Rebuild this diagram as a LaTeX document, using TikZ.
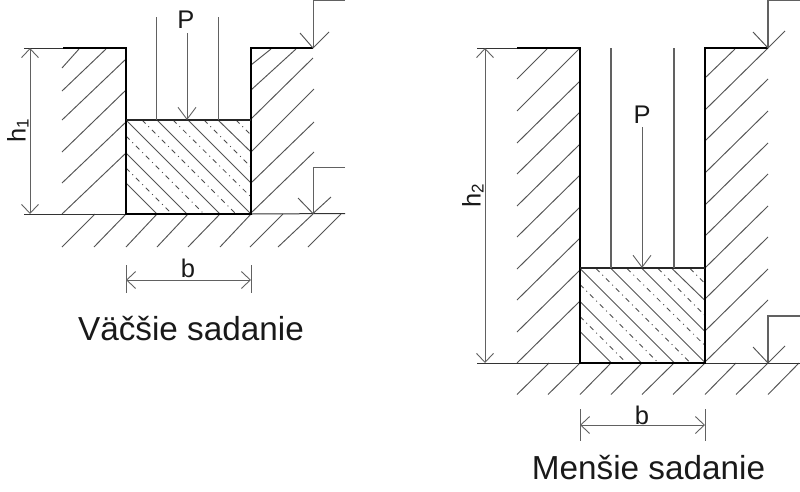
\documentclass[tikz,border=0pt]{standalone}
\usepackage{fontspec}
\setmainfont{Liberation Sans}
\usetikzlibrary{arrows.meta}
\definecolor{hatchcol}{gray}{0.33}
\definecolor{dimcol}{gray}{0.38}
\tikzset{
  wall/.style={line width=2.5pt,black,line cap=square,line join=miter},
  hatchline/.style={line width=0.95pt,hatchcol},
  dashhatch/.style={line width=0.8pt,black!70,dash pattern=on 5pt off 4pt on 1pt off 4pt},
  thinline/.style={line width=1pt,black!80},
  dimline/.style={line width=1pt,dimcol},
  dimtip/.style={dimline,{Straight Barb[length=9pt,width=17pt,line width=0.9pt]}-{Straight Barb[length=9pt,width=17pt,line width=0.9pt]}},
  loadtip/.style={dimline,-{Straight Barb[length=12pt,width=18pt,line width=0.9pt]}},
  lab/.style={font=\fontsize{25.5}{25.5}\selectfont,inner sep=0pt,text=black!90},
  caption/.style={font=\fontsize{33.3}{33.3}\selectfont,inner sep=0pt,anchor=base,text=black!90}
}
\newcommand{\sublab}[2]{h\raisebox{-3pt}{\fontsize{#1}{#1}\selectfont #2}}
\newcommand{\footinghatch}{%
  \foreach \xa/\ya/\xb/\yb in {126/120/220/214,126/153/187/214,126/183/157/214,157/120/251/214,188/120/251/183,218/120/251/152}
    \draw[hatchline] (\xa,\ya) -- (\xb,\yb);
  \foreach \xa/\ya/\xb/\yb in {142/120/236/214,173/120/251/197,204/120/251/167,236/120/251/135,126/136/204/214,126/168/172/214}
    \draw[dashhatch] (\xa,\ya) -- (\xb,\yb);
}
\begin{document}
\begin{tikzpicture}[x=1pt,y=-1pt]
\useasboundingbox (0,0) rectangle (800,491);

%% ---------- left figure ----------
\foreach \xa/\ya/\xb/\yb in {62/68/79/49,62/91/106/49,62/120/126/59,62/152/126/90,62/183/126/122,62/214/126/153}
  \draw[hatchline] (\xa,\ya) -- (\xb,\yb);
\foreach \xa/\ya/\xb/\yb in {251/65/271/49,251/90/296/49,251/119/313/58,251/152/314/89,251/183/314/122,251/213/314/152}
  \draw[hatchline] (\xa,\ya) -- (\xb,\yb);
\foreach \xa/\xb in {62/95,94/126,126/157,157/188,188/220,220/251,250/283,278/313,308/341}
  \draw[hatchline] (\xa,247) -- (\xb,214);
\footinghatch
\coordinate (lA) at (24,48);
\coordinate (lB) at (63,48);
\coordinate (lC) at (126,48);
\coordinate (lD) at (126,214);
\coordinate (lE) at (251,214);
\coordinate (lF) at (251,48);
\coordinate (lG) at (313,48);
\coordinate (lH) at (24,214);
\coordinate (lI) at (345,213.5);
\coordinate (lJ) at (126,120);
\coordinate (lK) at (251,120);
\draw[thinline] (lA) -- (lB);
\draw[thinline] (lH) -- (lD);
\draw[thinline] (lE) -- (lI);
\draw[wall] (lB) -- (lC) -- (lD) -- (lE) -- (lF) -- (lG);
\draw[line width=1.5pt,black!85] (lJ) -- (lK);
\coordinate (lP1a) at (156,17);
\coordinate (lP1b) at (156,120);
\coordinate (lP2a) at (218,17);
\coordinate (lP2b) at (218,120);
\coordinate (lP3a) at (187,33);
\coordinate (lP3b) at (187,120);
\draw[dimline] (lP1a) -- (lP1b);
\draw[dimline] (lP2a) -- (lP2b);
\draw[loadtip] (lP3a) -- (lP3b);
\node[lab] (lPtext) at (186,19.5) {P};
\coordinate (lm1a) at (345,0.5);
\coordinate (lm1b) at (313,0.5);
\coordinate (lm1c) at (313,48);
\draw[dimline] (lm1a) -- (lm1b) -- (lm1c);
\draw[hatchline] (300,33) -- (lm1c) -- (329,32);
\coordinate (lm2a) at (345,167);
\coordinate (lm2b) at (313,167);
\coordinate (lm2c) at (313,213.5);
\draw[dimline] (lm2a) -- (lm2b) -- (lm2c);
\draw[hatchline] (298,198) -- (lm2c) -- (331,197);
\coordinate (lh1) at (30,48);
\coordinate (lh2) at (30,214);
\draw[dimtip] (lh1) -- (lh2);
\node[lab,rotate=90] (lhtext) at (18,131) {\sublab{17}{1}};
\coordinate (lb1) at (126,280);
\coordinate (lb2) at (251,280);
\draw[dimtip] (lb1) -- (lb2);
\draw[dimline] (126,265) -- (126,293);
\draw[dimline] (251,265) -- (251,293);
\node[lab] (lbtext) at (188,268) {b};
\node[caption] (lcap) at (191,340) {Väčšie sadanie};

%% ---------- right figure ----------
\foreach \xa/\ya/\xb/\yb in {517/79/547/49,517/111/579/49,517/143/580/81,517/174/580/112,517/206/580/144,517/237/580/175,517/269/580/207,517/300/580/238,517/332/580/270,517/363/580/301}
  \draw[hatchline] (\xa,\ya) -- (\xb,\yb);
\foreach \xa/\ya/\xb/\yb in {705/78/735/49,705/110/768/48,705/141/768/79,705/173/768/111,705/205/768/143,705/236/768/174,705/268/768/206,705/299/768/237,705/331/768/269,705/362/768/300}
  \draw[hatchline] (\xa,\ya) -- (\xb,\yb);
\foreach \xa/\xb in {517/549,548/580,580/611,611/642,642/674,673/705,705/736,736/768,768/799}
  \draw[hatchline] (\xa,394.5) -- (\xb,363);
\begin{scope}[shift={(454,148.5)}]
\footinghatch
\end{scope}
\coordinate (rA) at (477,48);
\coordinate (rB) at (517,48);
\coordinate (rC) at (580,48);
\coordinate (rD) at (580,363);
\coordinate (rE) at (705,363);
\coordinate (rF) at (705,48);
\coordinate (rG) at (768,48);
\coordinate (rH) at (477,363);
\coordinate (rI) at (800,363);
\coordinate (rJ) at (580,268);
\coordinate (rK) at (705,268);
\draw[thinline] (rA) -- (rB);
\draw[thinline] (rH) -- (rD);
\draw[thinline] (rE) -- (rI);
\draw[wall] (rB) -- (rC) -- (rD) -- (rE) -- (rF) -- (rG);
\draw[line width=1.5pt,black!85] (rJ) -- (rK);
\coordinate (rP1a) at (611,48);
\coordinate (rP1b) at (611,268);
\coordinate (rP2a) at (674,48);
\coordinate (rP2b) at (674,268);
\coordinate (rP3a) at (642,127);
\coordinate (rP3b) at (642,268);
\draw[dimline,line width=1.4pt] (rP1a) -- (rP1b);
\draw[dimline,line width=1.4pt] (rP2a) -- (rP2b);
\draw[loadtip] (rP3a) -- (rP3b);
\node[lab] (rPtext) at (642,115) {P};
\coordinate (rm1a) at (800,0.5);
\coordinate (rm1b) at (768,0.5);
\coordinate (rm1c) at (768,48);
\draw[dimline,line width=1.4pt] (rm1a) -- (rm1b) -- (rm1c);
\draw[hatchline] (753,32) -- (rm1c) -- (785,31);
\coordinate (rm2a) at (800,316);
\coordinate (rm2b) at (768,316);
\coordinate (rm2c) at (768,363);
\draw[dimline,line width=1.4pt] (rm2a) -- (rm2b) -- (rm2c);
\draw[hatchline] (753,347) -- (rm2c) -- (785,346);
\coordinate (rh1) at (485,48);
\coordinate (rh2) at (485,363);
\draw[dimtip] (rh1) -- (rh2);
\node[lab,rotate=90] (rhtext) at (473,196) {\sublab{17}{2}};
\coordinate (rb1) at (580,425);
\coordinate (rb2) at (705,425);
\draw[dimtip] (rb1) -- (rb2);
\draw[dimline] (580,409) -- (580,441);
\draw[dimline] (705,409) -- (705,441);
\node[lab] (rbtext) at (642,415) {b};
\node[caption] (rcap) at (648.5,479) {Menšie sadanie};
\end{tikzpicture}
\end{document}
